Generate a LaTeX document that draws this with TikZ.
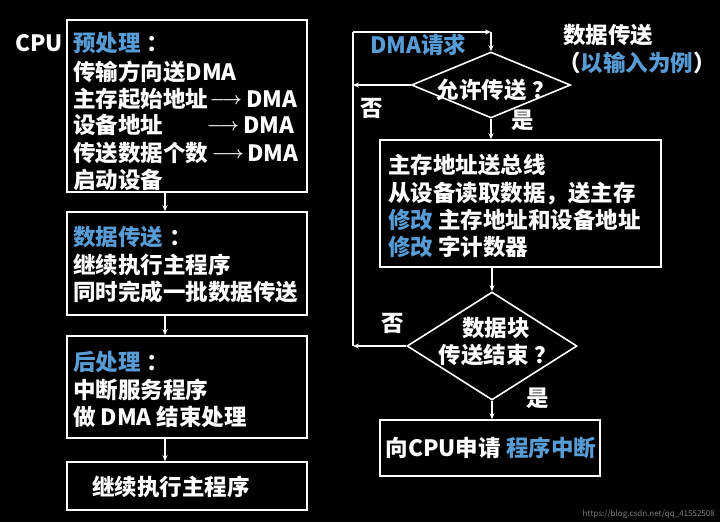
\documentclass[tikz,border=0pt]{standalone}
\usepackage{fontspec}
\setmainfont{Noto Sans CJK SC}[Kerning=Off]
\usetikzlibrary{shapes.geometric,arrows.meta}
\definecolor{hl}{RGB}{88,156,214}
\newcommand{\pgap}{\hspace{6pt}}
\begin{document}
\begin{tikzpicture}[x=1pt,y=-1pt,
  line/.style={draw=white,line width=1.6pt},
  arr/.style={draw=white,line width=1.4pt,-{Stealth[length=6pt,width=5pt]}},
  box/.style={line,rectangle,inner sep=0pt},
  dia/.style={line,diamond,inner sep=0pt},
  txt/.style={text=white,font=\fontsize{22.5}{26}\selectfont\bfseries,inner sep=0pt,anchor=base west},
  ctxt/.style={txt,anchor=base},
  symarr/.style={text=white,font=\fontsize{16}{16}\selectfont\boldmath,inner sep=0pt,anchor=base}
]
\useasboundingbox (0,0) rectangle (720,522);
\fill[black] (0,0) rectangle (720,522);

% left column boxes
\node[box,minimum width=240pt,minimum height=172pt] (b1) at (187,106) {};
\node[box,minimum width=240pt,minimum height=103pt] (b2) at (187,263.5) {};
\node[box,minimum width=240pt,minimum height=102pt] (b3) at (187,387) {};
\node[box,minimum width=240pt,minimum height=48pt] (b4) at (187,486) {};

\node[txt] (cpu) at (15,51.5) {CPU};
\node[txt] (l11) at (73,51.5) {\textcolor{hl}{预处理}\pgap：};
\node[txt] (l12) at (73,80.5) {传输方向送DMA};
\node[txt] (l13) at (73,107.5) {主存起始地址};
\node[symarr] (a13) at (226,104) {$\longrightarrow$};
\node[txt] (d13) at (246,107.5) {DMA};
\node[txt] (l14) at (73,133.5) {设备地址};
\node[symarr] (a14) at (223,130) {$\longrightarrow$};
\node[txt] (d14) at (243,133.5) {DMA};
\node[txt] (l15) at (73,161.5) {传送数据个数};
\node[symarr] (a15) at (228,158) {$\longrightarrow$};
\node[txt] (d15) at (247,161.5) {DMA};
\node[txt] (l16) at (73,188.5) {启动设备};

\node[txt] (l21) at (73,245.5) {\textcolor{hl}{数据传送}\pgap：};
\node[txt] (l22) at (73,273.5) {继续执行主程序};
\node[txt] (l23) at (73,300.5) {同时完成一批数据传送};

\node[txt] (l31) at (73,370.5) {\textcolor{hl}{后处理}\pgap：};
\node[txt] (l32) at (73,398.5) {中断服务程序};
\node[txt] (l33) at (73,425.5) {做 DMA 结束处理};

\node[ctxt] (l41) at (171,495.5) {继续执行主程序};

\draw[arr] (b1.south -| 165,0) -- (b2.north -| 165,0);
\draw[arr] (b2.south -| 165,0) -- (b3.north -| 165,0);
\draw[arr] (b3.south -| 165,0) -- (b4.north -| 165,0);

% right column
\node[dia,minimum width=159pt,minimum height=66pt] (d1) at (491,85) {};
\node[box,minimum width=281pt,minimum height=127pt] (r1) at (520.5,203.5) {};
\node[dia,minimum width=170pt,minimum height=108pt] (d2) at (492,346) {};
\node[box,minimum width=220pt,minimum height=56pt] (r2) at (490,448) {};

\node[ctxt] (q1) at (496,98.5) {允许传送\pgap？};
\node[txt] (dmareq) at (370,53.5) {\textcolor{hl}{DMA请求}};
\node[txt] (title) at (563,43.5) {数据传送};
\node[txt] (sub) at (558,71.5) {（\textcolor{hl}{以输入为例}）};
\node[ctxt] (no1) at (372,116.5) {否};
\node[ctxt] (yes1) at (523,128.5) {是};

\node[txt] (r11) at (388,173.5) {主存地址送总线};
\node[txt] (r12) at (388,201.5) {从设备读取数据，送主存};
\node[txt] (r13) at (388,228.5) {\textcolor{hl}{修改} 主存地址和设备地址};
\node[txt] (r14) at (388,255.5) {\textcolor{hl}{修改} 字计数器};

\node[ctxt] (q21) at (496,336.5) {数据块};
\node[ctxt] (q22) at (498,363.5) {传送结束\pgap？};
\node[ctxt] (no2) at (393,331.5) {否};
\node[ctxt] (yes2) at (538,406.5) {是};

\node[ctxt] (r21) at (491,456.5) {向CPU申请 \textcolor{hl}{程序中断}};

\coordinate (lb) at (353,346);
\coordinate (lt) at (353,32);
\coordinate (tr) at (491,32);

\draw[arr] (d1.west) -- (d1.west -| lb);
\draw[arr] (d2.west) -- (lb);
\draw[line] (lb) -- (lt);
\draw[arr] (lt) -- (tr);
\draw[arr] (tr) -- (d1.north);
\draw[arr] (d1.south) -- (d1.south |- r1.north);
\draw[arr] (d2.north |- r1.south) -- (d2.north);
\draw[arr] (d2.south) -- (d2.south |- r2.north);

\node[text=gray,font=\fontsize{8}{8}\selectfont,inner sep=0pt,anchor=base east] (wm) at (715,516) {https://blog.csdn.net/qq\_41552508};
\end{tikzpicture}
\end{document}
